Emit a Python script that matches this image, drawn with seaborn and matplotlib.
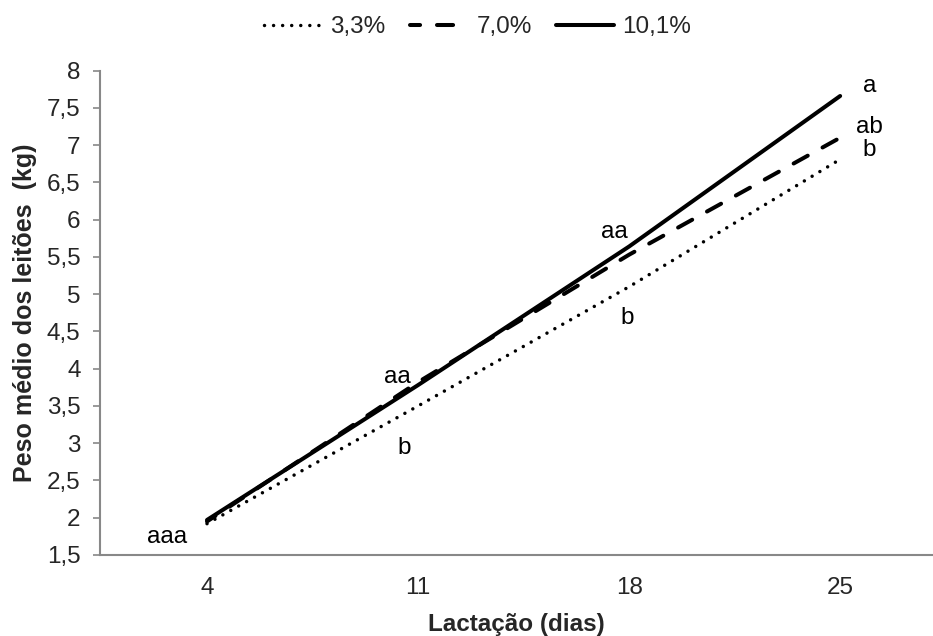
import numpy as np
import pandas as pd
import seaborn as sns
import matplotlib.pyplot as plt
from matplotlib.lines import Line2D

# dias de lactação (categorias do eixo x)
dias = ['4', '11', '18', '25']

# peso médio dos leitões (kg) por nível
peso_33 = [1.92, 3.50, 5.10, 6.81]
peso_70 = [1.95, 3.82, 5.53, 7.10]
peso_101 = [1.97, 3.78, 5.64, 7.66]

series_names = ['3,3%', '7,0%', '10,1%']
y_ticks = [1.5, 2, 2.5, 3, 3.5, 4, 4.5, 5, 5.5, 6, 6.5, 7, 7.5, 8]

# letras de significância: (texto, posição categórica, valor)
letras = [('aaa', -0.19, 1.74),
          ('aa', 0.90, 3.89), ('b', 0.935, 2.94),
          ('aa', 1.93, 5.84), ('b', 1.99, 4.68),
          ('a', 3.14, 7.79), ('ab', 3.14, 7.25), ('b', 3.14, 6.93)]

FS = 17.5

sns.set_style('white')
plt.rcParams['font.family'] = ['Liberation Sans', 'DejaVu Sans']

fig = plt.figure(figsize=(9.33, 6.36), dpi=100)
ax = fig.add_axes([0.1072, 0.1274, 0.8928, 0.7615])

pos = np.arange(len(dias))
df = pd.DataFrame({'pos': np.tile(pos, 3),
                   'peso': peso_33 + peso_70 + peso_101,
                   'nivel': np.repeat(series_names, len(dias))})

estilos = {
    '3,3%': dict(linestyle=(0, (0.01, 2.6)), dash_capstyle='round', linewidth=2.5),
    '7,0%': dict(linestyle=(1.5, (4.0, 4.2)), dash_capstyle='round', linewidth=2.9),
    '10,1%': dict(linestyle='-', linewidth=2.9),
}

handles = []
for name in series_names:
    sub = df[df.nivel == name]
    sns.lineplot(data=sub, x='pos', y='peso', ax=ax, color='black',
                 legend=False, **estilos[name])
    handles.append(Line2D([], [], color='black', **estilos[name]))

for txt, xp, yp in letras:
    ax.text(xp, yp, txt, fontsize=FS, ha='center', va='center', color='black')

ax.set_xlim(-0.507, 3.44)
ax.set_ylim(1.5, 8)
ax.set_xticks(pos)
ax.set_xticklabels(dias)
ax.set_yticks(y_ticks)
ax.set_yticklabels([('%g' % v).replace('.', ',') for v in y_ticks])
ax.tick_params(axis='x', length=0, labelsize=FS, pad=16)
ax.tick_params(axis='y', length=5, width=1.2, color='#888888', direction='out',
               labelsize=FS, pad=9, left=True)
for s in ['top', 'right']:
    ax.spines[s].set_visible(False)
for s in ['left', 'bottom']:
    ax.spines[s].set_color('#888888')
    ax.spines[s].set_linewidth(1.5)

ax.set_xlabel('Lactação (dias)', fontsize=FS, fontweight='bold', labelpad=10)
ax.set_ylabel('Peso médio dos leitões  (kg)', fontsize=18, fontweight='bold', labelpad=7.5)

fig.legend(handles, series_names, loc='center', bbox_to_anchor=(0.512, 0.9575),
           ncol=3, frameon=False, fontsize=FS, handlelength=2.4,
           handletextpad=0.33, columnspacing=1.0)

fig.savefig('out.png', dpi=100)
